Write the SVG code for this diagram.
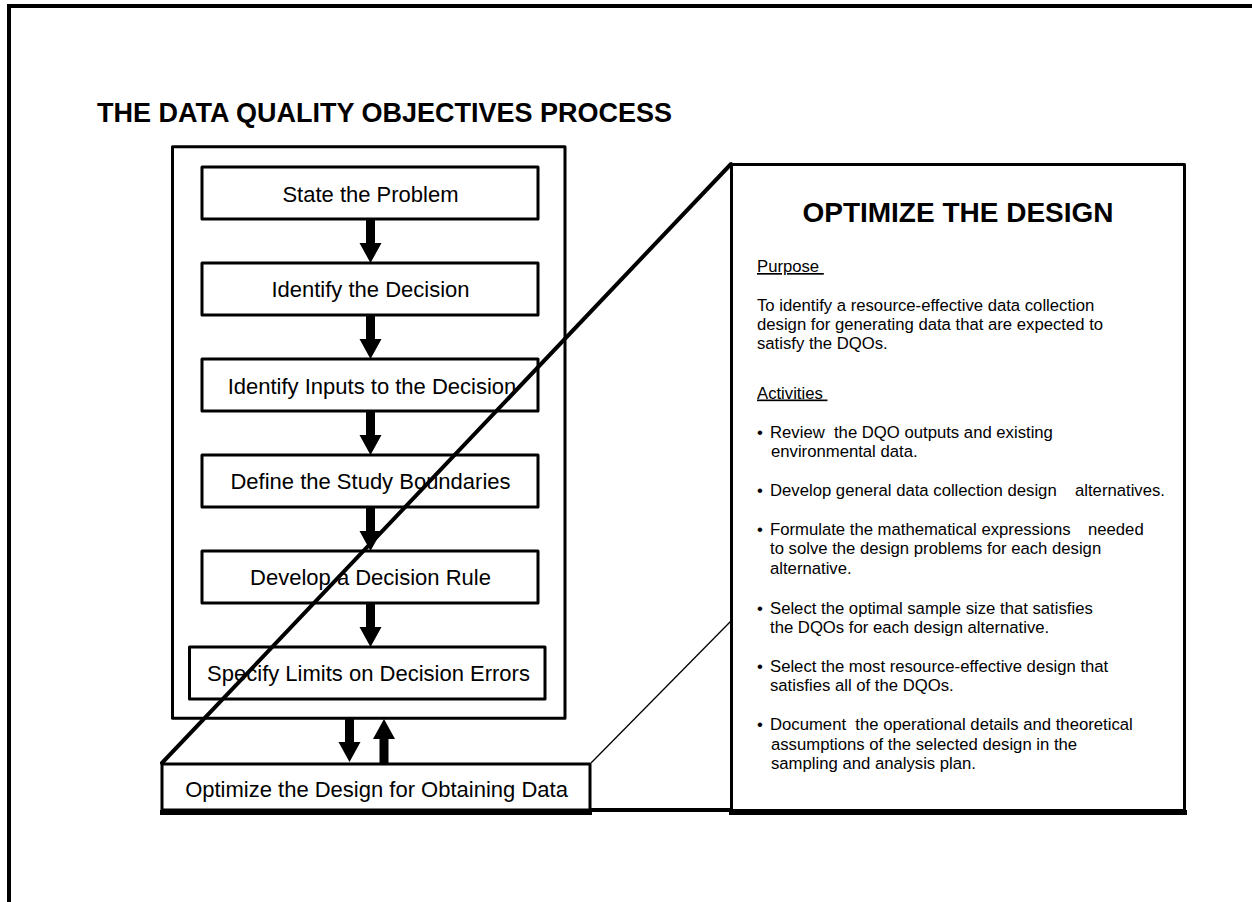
<svg xmlns="http://www.w3.org/2000/svg" xmlns:xlink="http://www.w3.org/1999/xlink" width="1252" height="902" viewBox="0 0 1252 902">
<style>
  .box { fill: #fff; stroke: #000; stroke-width: 3; stroke-linejoin: round; }
  .lbl { font-family: "Liberation Sans", Arial, sans-serif; font-size: 22px; fill: #000; text-anchor: middle; }
  .body { font-family: "Liberation Sans", Arial, sans-serif; font-size: 16.7px; fill: #000; }
  .head { font-family: "Liberation Sans", Arial, sans-serif; font-weight: bold; fill: #000; }
  .ul { text-decoration: underline; }
  .arrow { fill: #000; }
</style>
<defs>
  <path id="arrowDown" d="M-4.5,-44 H4.5 V-20 H11 L0,0 L-11,-20 H-4.5 Z"/>
</defs>
<rect width="1252" height="902" fill="#fff"/>
<path d="M9,902 V6 H1252" fill="none" stroke="#000" stroke-width="4"/>
<text id="title" class="head" x="97" y="122" font-size="27">THE DATA QUALITY OBJECTIVES PROCESS</text>

<g id="process-frame">
  <rect class="box" x="172.5" y="146.7" width="392.5" height="571.6"/>
</g>
<g id="n1"><rect class="box" x="202" y="167" width="336" height="52"/><text class="lbl" x="370.5" y="201.5">State the Problem</text></g>
<g id="n2"><rect class="box" x="202" y="263" width="336" height="52"/><text class="lbl" x="370.5" y="297">Identify the Decision</text></g>
<g id="n3"><rect class="box" x="202" y="359" width="336" height="52"/><text class="lbl" x="372" y="393.5">Identify Inputs to the Decision</text></g>
<g id="n4"><rect class="box" x="202" y="455" width="336" height="52"/><text class="lbl" x="370.5" y="489">Define the Study Boundaries</text></g>
<g id="n5"><rect class="box" x="202" y="551" width="336" height="52"/><text class="lbl" x="370.5" y="585">Develop a Decision Rule</text></g>
<g id="n6"><rect class="box" x="189.5" y="647" width="355.5" height="52"/><text class="lbl" x="368.5" y="680.5">Specify Limits on Decision Errors</text></g>
<g id="n7">
  <rect class="box" x="162" y="764" width="428" height="46" stroke-width="4"/>
  <line x1="160" y1="812.5" x2="592" y2="812.5" stroke="#000" stroke-width="5"/>
  <text class="lbl" x="376.5" y="797">Optimize the Design for Obtaining Data</text>
</g>

<g id="detail">
  <rect class="box" x="731.5" y="164.5" width="453" height="646" stroke-width="5"/>
  <line x1="729" y1="812.5" x2="1187" y2="812.5" stroke="#000" stroke-width="5"/>
  <text class="head" x="958" y="222" font-size="28" text-anchor="middle">OPTIMIZE THE DESIGN</text>
  <text class="body ul" x="757" y="272" xml:space="preserve">Purpose </text>
  <text class="body" x="757" y="311"><tspan x="757" y="311">To identify a resource-effective data collection</tspan><tspan x="757" y="330">design for generating data that are expected to</tspan><tspan x="757" y="349">satisfy the DQOs.</tspan></text>
  <text class="body ul" x="757" y="398.5" xml:space="preserve">Activities </text>
  <g class="body">
    <text x="757" y="437.5">•</text>
    <text xml:space="preserve"><tspan x="770" y="437.5">Review  the DQO outputs and existing</tspan><tspan x="771" y="456.5">environmental data.</tspan></text>
    <text x="757" y="496">•</text>
    <text><tspan x="770" y="496">Develop general data collection design</tspan><tspan x="1075" y="496">alternatives.</tspan></text>
    <text x="757" y="534.5">•</text>
    <text><tspan x="770" y="534.5">Formulate the mathematical expressions</tspan><tspan x="1088" y="534.5">needed</tspan><tspan x="770" y="554">to solve the design problems for each design</tspan><tspan x="770" y="573.5">alternative.</tspan></text>
    <text x="757" y="614">•</text>
    <text><tspan x="770" y="614">Select the optimal sample size that satisfies</tspan><tspan x="770" y="633">the DQOs for each design alternative.</tspan></text>
    <text x="757" y="672">•</text>
    <text><tspan x="770" y="672">Select the most resource-effective design that</tspan><tspan x="770" y="691">satisfies all of the DQOs.</tspan></text>
    <text x="757" y="730">•</text>
    <text xml:space="preserve"><tspan x="770" y="730">Document  the operational details and theoretical</tspan><tspan x="771" y="749.5">assumptions of the selected design in the</tspan><tspan x="771" y="769">sampling and analysis plan.</tspan></text>
  </g>
</g>

<g id="connectors">
  <use xlink:href="#arrowDown" class="arrow" transform="translate(370.5,263)"/>
  <use xlink:href="#arrowDown" class="arrow" transform="translate(370.5,359)"/>
  <use xlink:href="#arrowDown" class="arrow" transform="translate(370.5,455)"/>
  <use xlink:href="#arrowDown" class="arrow" transform="translate(370.5,551)"/>
  <use xlink:href="#arrowDown" class="arrow" transform="translate(370.5,647)"/>
  <use xlink:href="#arrowDown" class="arrow" transform="translate(349.5,762)"/>
  <use xlink:href="#arrowDown" class="arrow" transform="translate(384,719) rotate(180)"/>
  <line x1="162" y1="763" x2="731" y2="164" stroke="#000" stroke-width="4" stroke-linecap="round"/>
  <line x1="591" y1="763" x2="731" y2="621" stroke="#000" stroke-width="1.3"/>
  <line x1="590" y1="810" x2="731" y2="810" stroke="#000" stroke-width="4"/>
</g>
</svg>
